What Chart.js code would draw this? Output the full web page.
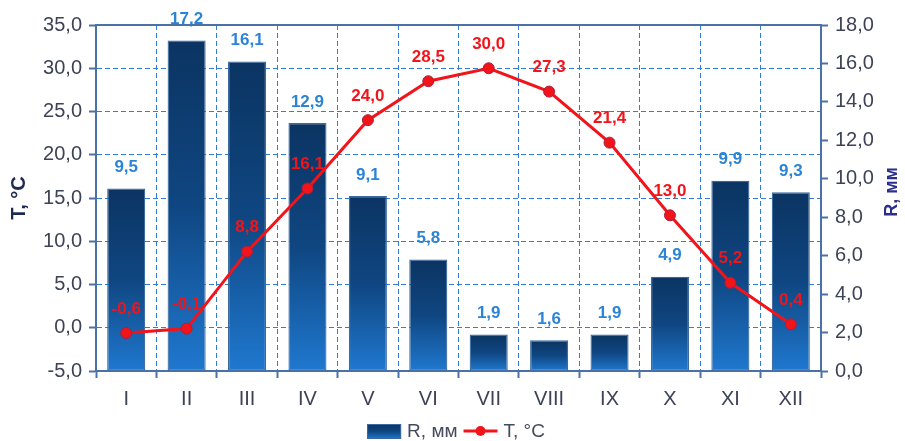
<!DOCTYPE html>
<html>
<head>
<meta charset="utf-8">
<script src="https://cdn.jsdelivr.net/npm/chart.js@4/dist/chart.umd.min.js"></script>
<style>
  html, body { margin: 0; padding: 0; background: #ffffff; }
  #wrap { width: 905px; height: 441px; position: relative; }
</style>
</head>
<body>
<div id="wrap"><canvas id="chart"></canvas></div>
<script>
// Monthly climate: precipitation R (mm, bars, right axis) and temperature T (°C, line, left axis)
const months = ['I', 'II', 'III', 'IV', 'V', 'VI', 'VII', 'VIII', 'IX', 'X', 'XI', 'XII'];
const precipitation = [9.5, 17.2, 16.1, 12.9, 9.1, 5.8, 1.9, 1.6, 1.9, 4.9, 9.9, 9.3];
const temperature = [-0.6, -0.1, 8.8, 16.1, 24.0, 28.5, 30.0, 27.3, 21.4, 13.0, 5.2, 0.4];
const tempAxis = { min: -5, max: 35, step: 5 };
const rainAxis = { min: 0, max: 18, step: 2 };
const seriesNames = ['R, мм', 'T, °C'];

const FONT = "'Liberation Sans', Arial, sans-serif";
const AXIS = '#4b72a8';
const GRID = '#2f80d0';
const TICK_TEXT = '#3d4356';
const RED = '#f2141b';
const BAR_LABEL = '#2b84d6';

const fmt = v => Number(v).toFixed(1).replace('.', ',');

function barGradient(ctx, top, bottom) {
  const g = ctx.createLinearGradient(0, top, 0, bottom);
  g.addColorStop(0, '#0b3462');
  g.addColorStop(0.5, '#0f4681');
  g.addColorStop(1, '#1f78cf');
  return g;
}

// value labels above bars and line points, titles, frame top and legend
const decorations = {
  id: 'decorations',
  afterDatasetsDraw(chart) {
    const ctx = chart.ctx;
    ctx.save();
    ctx.textAlign = 'center';
    ctx.textBaseline = 'middle';
    ctx.font = 'bold 17px ' + FONT;

    const barMeta = chart.getDatasetMeta(1);
    ctx.fillStyle = BAR_LABEL;
    barMeta.data.forEach((el, i) => {
      ctx.fillText(fmt(precipitation[i]), el.x, el.y - 21);
    });

    const lineMeta = chart.getDatasetMeta(0);
    ctx.fillStyle = RED;
    lineMeta.data.forEach((el, i) => {
      ctx.fillText(fmt(temperature[i]), el.x, el.y - 24);
    });
    ctx.restore();
  },
  afterDraw(chart) {
    const ctx = chart.ctx;
    const a = chart.chartArea;
    ctx.save();

    // solid frame line along the top of the plot
    ctx.strokeStyle = AXIS;
    ctx.lineWidth = 2;
    ctx.beginPath();
    ctx.moveTo(a.left, a.top);
    ctx.lineTo(a.right, a.top);
    ctx.stroke();

    // axis titles, both reading bottom to top
    const midY = (a.top + a.bottom) / 2;
    ctx.textAlign = 'center';
    ctx.textBaseline = 'middle';
    ctx.save();
    ctx.translate(19, midY);
    ctx.rotate(-Math.PI / 2);
    ctx.font = 'bold 20px ' + FONT;
    ctx.fillStyle = '#1d2b4f';
    ctx.fillText('T, °C', 0, 0);
    ctx.restore();

    ctx.save();
    ctx.translate(892, midY - 6);
    ctx.rotate(-Math.PI / 2);
    ctx.font = 'bold 18px ' + FONT;
    ctx.fillStyle = '#2b2e8a';
    ctx.fillText(seriesNames[0], 0, 0);
    ctx.restore();

    // legend
    ctx.font = '19px ' + FONT;
    ctx.textAlign = 'left';
    const w1 = ctx.measureText(seriesNames[0]).width;
    const w2 = ctx.measureText(seriesNames[1]).width;
    const sw = 34, gap = 6, lw = 34;
    const total = sw + gap + w1 + gap + lw + gap + w2;
    let x = 456 - total / 2;
    const y = 431;
    ctx.fillStyle = barGradient(ctx, y - 7, y + 8);
    ctx.fillRect(x, y - 7, sw, 15);
    ctx.strokeStyle = '#3a6aa0';
    ctx.lineWidth = 1;
    ctx.strokeRect(x + 0.5, y - 6.5, sw - 1, 14);
    x += sw + gap;
    ctx.fillStyle = '#454b5c';
    ctx.fillText(seriesNames[0], x, y + 1);
    x += w1 + gap;
    ctx.strokeStyle = RED;
    ctx.lineWidth = 3;
    ctx.beginPath();
    ctx.moveTo(x, y);
    ctx.lineTo(x + lw, y);
    ctx.stroke();
    ctx.beginPath();
    ctx.arc(x + lw / 2, y, 5, 0, Math.PI * 2);
    ctx.fillStyle = RED;
    ctx.fill();
    x += lw + gap;
    ctx.fillStyle = '#454b5c';
    ctx.fillText(seriesNames[1], x, y + 1);

    ctx.restore();
  }
};

Chart.defaults.font.family = FONT;

new Chart(document.getElementById('chart'), {
  type: 'bar',
  data: {
    labels: months,
    datasets: [
      {
        type: 'line',
        label: seriesNames[1],
        data: temperature,
        yAxisID: 'y',
        order: 0,
        borderColor: RED,
        borderWidth: 3,
        pointRadius: 5.5,
        pointBackgroundColor: RED,
        pointBorderColor: '#a8203c',
        pointBorderWidth: 1,
        tension: 0,
        fill: false
      },
      {
        type: 'bar',
        label: seriesNames[0],
        data: precipitation,
        yAxisID: 'y2',
        order: 1,
        barPercentage: 0.63,
        categoryPercentage: 1,
        borderColor: '#3a6aa0',
        borderWidth: 1.2,
        borderSkipped: false,
        backgroundColor(c) {
          const chart = c.chart;
          if (!chart.chartArea || c.raw === undefined) return '#0f4681';
          const s = chart.scales.y2;
          return barGradient(chart.ctx, s.getPixelForValue(c.raw), s.getPixelForValue(0));
        }
      }
    ]
  },
  options: {
    responsive: true,
    maintainAspectRatio: false,
    animation: false,
    devicePixelRatio: 1,
    layout: { padding: { top: 25, left: 0, right: 0, bottom: 0 } },
    plugins: {
      legend: { display: false },
      tooltip: { enabled: false }
    },
    scales: {
      x: {
        offset: true,
        grid: {
          offset: true,
          color: GRID,
          lineWidth: 1,
          drawTicks: true,
          tickLength: 7,
          tickColor: AXIS,
          tickWidth: 2,
          tickBorderDash: []
        },
        border: { display: true, color: AXIS, width: 2, dash: [5, 3] },
        ticks: { color: TICK_TEXT, font: { size: 20 }, padding: 9, maxRotation: 0 },
        afterFit(s) { s.height = 70; }
      },
      y: {
        position: 'left',
        min: tempAxis.min,
        max: tempAxis.max,
        grid: {
          color: GRID,
          lineWidth: 1,
          drawTicks: true,
          tickLength: 7,
          tickColor: AXIS,
          tickWidth: 2,
          tickBorderDash: []
        },
        border: { display: true, color: AXIS, width: 2, dash: [5, 3] },
        ticks: {
          stepSize: tempAxis.step,
          color: TICK_TEXT,
          font: { size: 20 },
          padding: 7,
          callback: v => fmt(v)
        },
        afterFit(s) { s.width = 96; }
      },
      y2: {
        position: 'right',
        min: rainAxis.min,
        max: rainAxis.max,
        grid: {
          drawOnChartArea: false,
          drawTicks: true,
          tickLength: 7,
          tickColor: AXIS,
          tickWidth: 2
        },
        border: { display: true, color: AXIS, width: 2 },
        ticks: {
          stepSize: rainAxis.step,
          color: TICK_TEXT,
          font: { size: 20 },
          padding: 7,
          callback: v => fmt(v)
        },
        afterFit(s) { s.width = 84; }
      }
    }
  },
  plugins: [decorations]
});
</script>
</body>
</html>
